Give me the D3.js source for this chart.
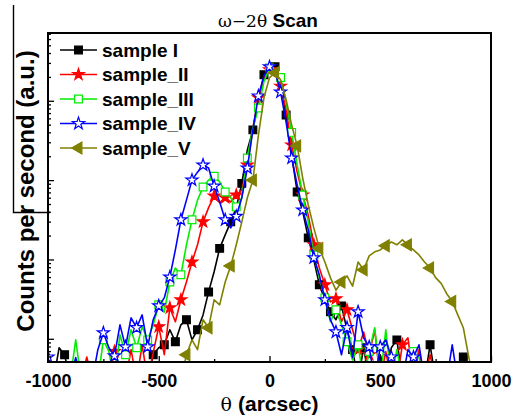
<!DOCTYPE html>
<html>
<head>
<meta charset="utf-8">
<script src="https://cdn.jsdelivr.net/npm/d3@7/dist/d3.min.js"></script>
<style>
  body { margin: 0; background: #fff; }
  text { font-family: "Liberation Sans", Arial, sans-serif; }
</style>
</head>
<body>
<div id="chart"></div>
<script>
(function () {
    'use strict';

    // scan grid (arcsec)
    const theta = [-1000, -975, -950, -925, -900, -875, -850, -825, -800, -775,
        -750, -725, -700, -675, -650, -625, -600, -575, -550, -525,
        -500, -475, -450, -425, -400, -375, -350, -325, -300, -275,
        -250, -225, -200, -175, -150, -125, -100, -75, -50, -25,
        0, 25, 50, 75, 100, 125, 150, 175, 200, 225,
        250, 275, 300, 325, 350, 375, 400, 425, 450, 475,
        500, 525, 550, 575, 600, 625, 650, 675, 700, 725,
        750, 775, 800, 825, 850, 875, 900, 925, 950, 975, 1000];

    // counts (a.u.), 0.3 = below the axis
    const sampleI = [0.3, 0.3, 0.77, 0.63, 0.3, 0.3, 0.3, 0.3, 0.3, 0.3,
        0.3, 0.3, 0.3, 0.3, 0.3, 0.3, 0.3, 0.3, 0.3, 0.63,
        0.77, 0.84, 1.3, 0.92, 1.5, 1.74, 0.97, 1.3, 2.0, 3.9,
        7.0, 13.8, 20.4, 29.8, 45, 91, 240, 430, 1030, 2130,
        2600, 2680, 1590, 660, 207, 71, 40, 18.7, 9.9, 4.8,
        3.1, 2.19, 1.74, 2.6, 1.3, 0.73, 0.3, 0.77, 0.3, 0.3,
        0.63, 0.3, 0.77, 0.97, 0.3, 0.3, 0.69, 0.3, 0.3, 0.84,
        0.3, 0.3, 0.3, 0.3, 0.3, 0.59, 0.3, 0.3, 0.3, 0.3, 0.3];

    const sampleII = [0.3, 0.3, 0.3, 0.3, 0.3, 0.3, 0.3, 0.59, 0.3, 0.3,
        0.3, 0.3, 0.69, 0.3, 0.3, 0.73, 0.3, 0.84, 0.3, 0.67,
        1.42, 0.63, 2.46, 1.64, 3.1, 5.2, 9.3, 15.3, 29.8, 45,
        63, 52, 60, 53, 65, 75, 155, 455, 1090, 1960,
        2460, 2600, 1530, 770, 277, 126, 65, 36, 15.3, 7.8,
        4.8, 2.92, 3.2, 1.64, 2.32, 1.3, 0.73, 1.22, 0.63, 1.3,
        0.3, 0.69, 0.3, 0.3, 0.84, 1.03, 0.3, 0.73, 0.3, 0.63,
        0.3, 0.3, 0.3, 0.3, 0.3, 0.3, 0.3, 0.3, 0.3, 0.3, 0.3];

    const sampleIII = [0.3, 0.3, 0.3, 0.3, 0.3, 0.97, 0.3, 0.3, 0.3, 0.3,
        0.97, 0.69, 0.3, 1.12, 0.63, 1.3, 0.77, 1.42, 0.97, 1.5,
        2.68, 2.19, 5.2, 7.8, 6.4, 15.3, 31.6, 56, 82, 100,
        112, 95, 71, 60, 46, 60, 190, 455, 810, 1740,
        2600, 2460, 1960, 960, 400, 155, 65, 29.8, 11.4, 5.9,
        3.28, 1.64, 2.32, 1.5, 0.92, 0.54, 0.84, 0.3, 0.69, 1.38,
        0.3, 1.3, 0.3, 0.73, 0.3, 0.3, 0.69, 0.58, 0.3, 0.3,
        0.3, 0.3, 0.3, 0.3, 0.3, 0.3, 0.3, 0.3, 0.3, 0.3, 0.3];

    const sampleIV = [0.59, 0.3, 0.3, 0.3, 0.3, 0.58, 0.3, 0.3, 0.3, 0.73,
        1.19, 0.77, 0.61, 1.5, 0.79, 1.84, 1.38, 2.0, 0.79, 1.74,
        2.6, 3.28, 6.0, 13.2, 31.6, 56, 100, 126, 155, 142,
        84, 53, 31.6, 25, 35, 60, 142, 430, 1150, 2060,
        2680, 2320, 1290, 540, 190, 87, 42, 23.6, 10.5, 6.4,
        3.1, 1.74, 1.22, 0.63, 1.38, 0.58, 2.19, 1.03, 0.79, 0.3,
        0.79, 0.97, 0.59, 0.3, 0.3, 0.73, 0.59, 0.84, 0.3, 0.3,
        0.3, 0.3, 0.3, 0.84, 0.3, 0.3, 0.3, 0.3, 0.3, 0.3, 0.3];

    const sampleV = [0.3, 0.3, 0.3, 0.3, 0.3, 0.3, 0.3, 0.3, 0.3, 0.3,
        0.3, 0.3, 0.3, 0.3, 0.3, 0.3, 0.3, 0.3, 0.3, 0.3,
        0.3, 0.3, 0.3, 0.3, 0.3, 0.63, 0.97, 0.73, 1.74, 1.38,
        3.1, 2.68, 5.2, 8.3, 15.3, 29.8, 60, 100, 370, 1090,
        1960, 2250, 1840, 1030, 495, 270, 106, 48.6, 25, 13.8,
        9.3, 5.9, 4.1, 5.2, 6.2, 4.6, 9.3, 7.4, 11.1, 12.5,
        13.2, 14.9, 16.6, 15.3, 17.7, 15.3, 13.2, 11.4, 9.3, 7.8,
        5.9, 5.0, 3.7, 2.95, 2.0, 1.38, 0.58, 0.3, 0.3, 0.3, 0.3];

    const xTicks = [-1000, -500, 0, 500, 1000];
    const xMinorTicks = [-750, -250, 250, 750];
    const yMajorTicks = [1, 10, 100, 1000];

    const series = [
        { name: 'sample I', values: sampleI, color: '#000000', symbol: d3.symbolSquare, size: 60, fill: '#000000', every: 2, offset: 1, rotate: 0 },
        { name: 'sample_II', values: sampleII, color: '#ff0000', symbol: d3.symbolStar, size: 42, fill: '#ff0000', every: 2, offset: 0, rotate: 0 },
        { name: 'sample_III', values: sampleIII, color: '#00ee00', symbol: d3.symbolSquare, size: 60, fill: '#ffffff', every: 2, offset: 0, rotate: 0 },
        { name: 'sample_IV', values: sampleIV, color: '#0000ff', symbol: d3.symbolStar, size: 46, fill: '#ffffff', every: 2, offset: 0, rotate: 0 },
        { name: 'sample_V', values: sampleV, color: '#808000', symbol: d3.symbolTriangle, size: 60, fill: '#808000', every: 4, offset: 1, rotate: -90 }
    ];

    const margin = { top: 33, right: 27, bottom: 55, left: 48 };
    const W = 518, H = 417;
    const width = W - margin.left - margin.right;
    const height = H - margin.top - margin.bottom;

    const svg = d3.select('#chart').append('svg')
        .attr('width', W).attr('height', H);

    const g = svg.append('g')
        .attr('transform', 'translate(' + margin.left + ',' + margin.top + ')');

    const xScale = d3.scaleLinear().domain([-1000, 1000]).range([0, width]);
    const yScale = d3.scaleLog().domain([0.51, 7150]).range([height, 0]);

    g.append('clipPath').attr('id', 'plot-clip')
        .append('rect').attr('width', width).attr('height', height);

    const plot = g.append('g').attr('clip-path', 'url(#plot-clip)');

    const line = d3.line()
        .x(function (d, i) { return xScale(theta[i]); })
        .y(function (d) { return yScale(d); });

    series.forEach(function (s) {
        plot.append('path').datum(s.values)
            .attr('fill', 'none')
            .attr('stroke', s.color)
            .attr('stroke-width', 1.6)
            .attr('stroke-linejoin', 'round')
            .attr('d', line);

        const sym = d3.symbol().type(s.symbol).size(s.size);
        const pts = s.values.map(function (v, i) { return { v: v, i: i }; })
            .filter(function (p) { return p.i % s.every === s.offset && p.v >= 0.51; });

        plot.selectAll(null).data(pts).enter().append('path')
            .attr('d', sym)
            .attr('transform', function (p) {
                return 'translate(' + xScale(theta[p.i]) + ',' + yScale(p.v) + ') rotate(' + s.rotate + ')';
            })
            .attr('fill', s.fill)
            .attr('stroke', s.color)
            .attr('stroke-width', 1.2);
    });

    // axes, ticks pointing inward
    const xAxis = d3.axisBottom(xScale).tickValues(xTicks)
        .tickSizeInner(-6).tickSizeOuter(0).tickPadding(12)
        .tickFormat(function (d) { return String(d); });
    const xMinor = d3.axisBottom(xScale).tickValues(xMinorTicks)
        .tickSizeInner(-3).tickSizeOuter(0).tickFormat('');

    g.append('g').attr('class', 'xaxis').attr('transform', 'translate(0,' + height + ')').call(xAxis);
    g.append('g').attr('transform', 'translate(0,' + height + ')').call(xMinor);

    const yMinorTicks = yScale.ticks().filter(function (d) { return yMajorTicks.indexOf(d) < 0; });
    g.append('g').call(d3.axisLeft(yScale).tickValues(yMajorTicks).tickSizeInner(-6).tickSizeOuter(0).tickFormat(''));
    g.append('g').call(d3.axisLeft(yScale).tickValues(yMinorTicks).tickSizeInner(-3).tickSizeOuter(0).tickFormat(''));

    g.selectAll('.domain').remove();
    g.selectAll('.tick line').attr('stroke', '#000').attr('stroke-width', 1.3);
    g.select('.xaxis').selectAll('text')
        .style('font-size', '18px').style('font-weight', 'bold').attr('fill', '#000');

    g.append('rect').attr('width', width).attr('height', height)
        .attr('fill', 'none').attr('stroke', '#000').attr('stroke-width', 2);

    // legend
    const legend = g.append('g').attr('transform', 'translate(12,17)');
    series.forEach(function (s, k) {
        const row = legend.append('g').attr('transform', 'translate(0,' + (k * 24.5) + ')');
        row.append('line').attr('x1', 0).attr('x2', 37).attr('y1', 0).attr('y2', 0)
            .attr('stroke', s.color).attr('stroke-width', 1.6);
        row.append('path').attr('d', d3.symbol().type(s.symbol).size(s.size))
            .attr('transform', 'translate(18.5,0) rotate(' + s.rotate + ')')
            .attr('fill', s.fill).attr('stroke', s.color).attr('stroke-width', 1.2);
        row.append('text').attr('x', 42).attr('y', 6.5)
            .style('font-size', '19px').style('font-weight', 'bold')
            .text(s.name);
    });

    // title
    const title = svg.append('text').attr('x', 268).attr('y', 27).attr('text-anchor', 'middle');
    title.append('tspan').style('font-family', '"DejaVu Serif", serif').style('font-size', '17px').text('ω−2θ ');
    title.append('tspan').style('font-size', '19px').style('font-weight', 'bold').text('Scan');

    // axis labels
    const xLabel = svg.append('text').attr('x', margin.left + width / 2).attr('y', 411)
        .attr('text-anchor', 'middle').style('font-size', '21px');
    xLabel.append('tspan').style('font-family', '"DejaVu Serif", serif').style('font-size', '19px').text('θ ');
    xLabel.append('tspan').style('font-weight', 'bold').text('(arcsec)');

    svg.append('text').attr('transform', 'translate(34,191) rotate(-90)')
        .attr('text-anchor', 'middle')
        .style('font-size', '24px').style('font-weight', 'bold')
        .text('Counts per second (a.u.)');

    // stray bracket lines in the scanned figure
    svg.append('path').attr('d', 'M13.5,5 V212.5 H50')
        .attr('fill', 'none').attr('stroke', '#000').attr('stroke-width', 1.4);
}());
</script>
</body>
</html>
